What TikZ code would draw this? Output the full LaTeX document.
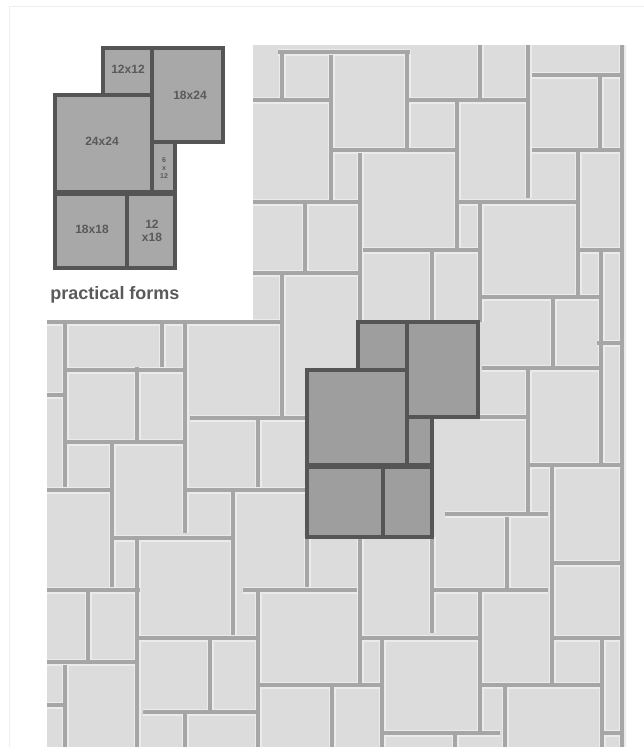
\documentclass[tikz,border=0pt]{standalone}
\usepackage{fontspec}
\setmainfont{Liberation Sans}
\definecolor{field}{HTML}{DCDCDC}
\definecolor{halo}{HTML}{EBEBEB}
\definecolor{grout}{HTML}{A6A6A6}
\definecolor{stonedk}{HTML}{9E9E9E}
\definecolor{stonekey}{HTML}{A8A8A8}
\definecolor{groutdk}{HTML}{555555}
\definecolor{ink}{HTML}{5A5A5A}
\definecolor{frame}{HTML}{EEEEEE}

% horizontal and vertical joints of the paving: x1/y1/x2/y2
\newcommand{\jointlist}{
  278/52/410/52, 282/52/282/98, 253/100/332/100, 331/55/331/200, 407/50/407/150,
  333/150/457/150, 407/100/528/100, 480/45/480/100, 528/45/528/198, 457/100/457/250,
  363/250/480/250, 532/75/620/75, 600/77/600/150, 532/150/620/150, 622/45/622/747,
  578/152/578/297, 455/202/578/202, 480/200/480/322, 580/250/620/250,
  480/297/600/297, 553/298/553/367, 253/202/360/202, 360/153/360/322, 305/202/305/272,
  253/273/360/273, 282/275/282/417, 253/322/280/322, 432/250/432/322,
  47/322/282/322, 65/323/65/487, 162/323/162/367, 185/322/185/533, 65/370/185/370,
  137/367/137/442, 65/442/185/442, 112/442/112/587, 47/490/112/490, 190/418/307/418,
  258/418/258/487, 185/490/307/490, 233/490/233/635, 112/538/233/538, 137/540/137/747,
  47/590/140/590, 88/592/88/663, 47/662/137/662, 65/665/65/747, 137/638/260/638,
  210/640/210/712, 143/712/258/712, 185/713/185/747, 258/590/258/747, 243/590/357/590,
  307/537/307/587, 260/685/380/685, 47/395/65/395, 47/705/65/705,
  482/368/602/368, 528/367/528/513, 480/417/527/417, 445/514/548/514, 601/252/601/467,
  530/465/620/465, 597/343/622/343, 552/467/552/683, 552/563/622/563, 433/590/548/590,
  360/537/360/683, 432/537/432/633, 358/638/480/638, 480/590/480/733, 507/517/507/588,
  552/638/622/638, 602/638/602/747, 480/685/602/685, 382/640/382/747, 332/687/332/747,
  380/733/500/733, 505/685/505/747, 455/733/455/747, 602/733/622/733}

% dark joints of the marked group, repeated in the key
\newcommand{\markedlist}{
  358/322/478/322, 358/322/358/370, 407/322/407/466, 478/322/478/417, 407/417/478/417,
  307/370/407/370, 307/370/307/537, 432/417/432/537, 307/466/432/466, 383/466/383/537,
  307/537/432/537}
\newcommand{\keylist}{
  103/48/223/48, 223/48/223/142, 152/142/223/142, 152/48/152/193, 175/142/175/268,
  55/95/152/95, 103/48/103/95, 55/95/55/268, 55/193/175/193, 127/193/127/268,
  55/268/175/268}

\begin{document}
\begin{tikzpicture}[x=1pt,y=-1pt,
  jointline/.style={grout, line width=3.5pt},
  jointhalo/.style={halo, line width=7pt},
  markedline/.style={groutdk, line width=4pt, line cap=rect},
  keytext/.style={font=\bfseries\fontsize{12}{13}\selectfont, text=ink, inner sep=0pt, align=center},
]

% Page
\useasboundingbox (0,0) rectangle (644,747);
\fill[white] (0,0) rectangle (644,747);
\draw[frame, line width=1pt] (9,6) -- (644,6);
\draw[frame, line width=1pt] (9,6) -- (9,747);

% === Paving field ===
\fill[field] (253,45) -- (626,45) -- (626,747) -- (47,747) -- (47,320) -- (253,320) -- cycle;
\begin{scope}
  \clip (253,45) -- (626,45) -- (626,747) -- (47,747) -- (47,320) -- (253,320) -- cycle;
  \foreach \xa/\ya/\xb/\yb in \jointlist
    \draw[jointhalo] (\xa,\ya) -- (\xb,\yb);
  \foreach \xa/\ya/\xb/\yb in \jointlist
    \draw[jointline] (\xa,\ya) -- (\xb,\yb);
\end{scope}

% === Marked group in the field ===
\fill[stonedk] (358,322) -- (478,322) -- (478,417) -- (432,417) -- (432,537) -- (307,537) -- (307,370) -- (358,370) -- cycle;
\foreach \xa/\ya/\xb/\yb in \markedlist
  \draw[markedline] (\xa,\ya) -- (\xb,\yb);
\draw[markedline, line width=6pt, line cap=butt] (307,466) -- (432,466);

% === Key ===
\fill[stonekey] (103,48) -- (223,48) -- (223,142) -- (175,142) -- (175,268) -- (55,268) -- (55,95) -- (103,95) -- cycle;
\foreach \xa/\ya/\xb/\yb in \keylist
  \draw[markedline] (\xa,\ya) -- (\xb,\yb);
\draw[markedline, line width=6pt, line cap=butt] (55,193) -- (175,193);

\node[keytext] (size12a) at (128,69) {12x12};
\node[keytext] (size18a) at (190,95) {18x24};
\node[keytext] (size24) at (102,141) {24x24};
\node[keytext, font=\bfseries\fontsize{7}{8}\selectfont] (size6) at (164,168) {6\\x\\12};
\node[keytext] (size18b) at (92,229) {18x18};
\node[keytext] (size12b) at (152,231) {12\\x18};
\node[font=\bfseries\fontsize{18}{20}\selectfont, text=ink, inner sep=0pt] (keycap) at (115,295) {practical forms};

\end{tikzpicture}
\end{document}
